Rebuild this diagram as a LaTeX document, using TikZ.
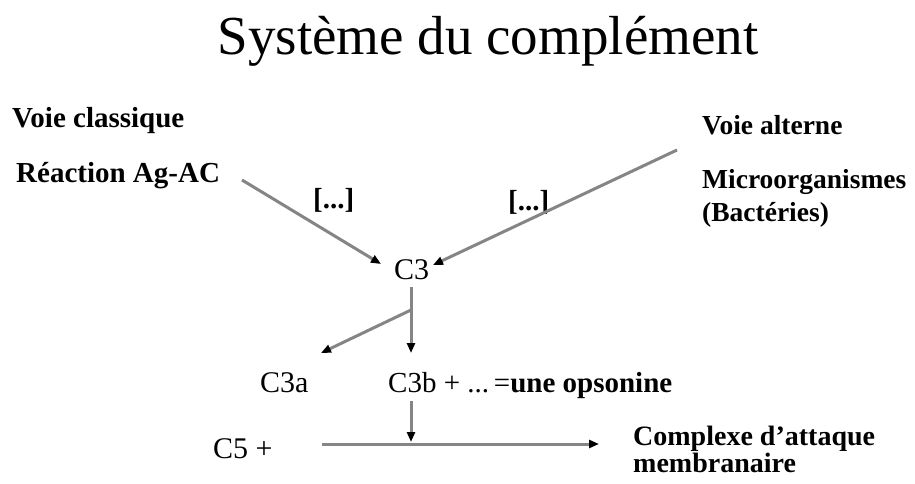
\documentclass[tikz,border=0pt]{standalone}
\usepackage{fontspec}
\setmainfont{Liberation Serif}
\usetikzlibrary{arrows.meta}
\begin{document}
\begin{tikzpicture}[x=1pt,y=1pt,
  lbl/.style={anchor=base west,inner sep=0pt,font=\fontsize{29}{33}\selectfont\bfseries},
  rlbl/.style={anchor=base west,inner sep=0pt,font=\fontsize{27.5}{31}\selectfont\bfseries},
  reg/.style={anchor=base west,inner sep=0pt,font=\fontsize{30}{34}\selectfont},
  conn/.style={draw=black!48,line width=3pt,-{Triangle[length=10pt,width=8pt,color=black]}},
  plain/.style={draw=black!48,line width=3pt}]
\useasboundingbox[fill=white] (0,0) rectangle (915,-484);
% title
\node[anchor=base,inner sep=0pt,font=\fontsize{55}{60}\selectfont] (title) at (488,-55) {Système du complément};
% left texts
\node[lbl] (vc) at (12,-128) {Voie classique};
\node[lbl] (rag) at (16,-182) {Réaction Ag-AC};
% right texts
\node[rlbl] (va) at (702,-135) {Voie alterne};
\node[rlbl] (micro) at (702,-188) {Microorganismes};
\node[rlbl] (bact) at (702,-221) {(Bactéries)};
% labels
\node[lbl] (l1) at (313,-208) {[...]};
\node[lbl] (l2) at (508,-210) {[...]};
% C3
\node[reg] (c3) at (394,-279) {C3};
\node[reg] (c3a) at (260,-392) {C3a};
\node[reg,font=\fontsize{29}{33}\selectfont] (c3b) at (388,-392) {C3b + ...\,=\textbf{une opsonine}};
\node[reg] (c5) at (213,-458) {C5 +};
\node[lbl,font=\fontsize{28}{32}\selectfont\bfseries] (cx) at (633,-445) {Complexe d’attaque};
\node[lbl,font=\fontsize{28}{32}\selectfont\bfseries] (mb) at (633,-472) {membranaire};
% coordinates
\coordinate (s1) at (242,-180);
\coordinate (t1) at (381,-264);
\coordinate (s2) at (677,-150);
\coordinate (t2) at (433,-265);
\coordinate (v0) at (411,-287);
\coordinate (br) at (411,-310);
\coordinate (t3) at (411,-353);
\coordinate (t4) at (321,-353);
\coordinate (v1) at (411,-401);
\coordinate (t5) at (411,-442);
\coordinate (h0) at (322,-444);
\coordinate (h1) at (599,-444);
% connectors
\draw[conn] (s1) -- (t1);
\draw[conn] (s2) -- (t2);
\draw[plain] (v0) -- (br);
\draw[conn] (br) -- (t3);
\draw[conn] (br) -- (t4);
\draw[conn] (v1) -- (t5);
\draw[conn] (h0) -- (h1);
\end{tikzpicture}
\end{document}
